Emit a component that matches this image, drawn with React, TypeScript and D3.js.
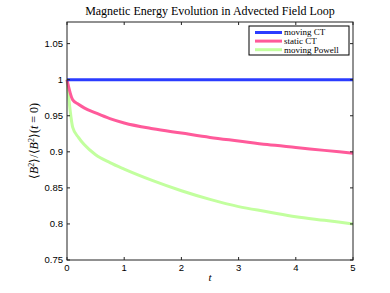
import React, { useRef, useEffect } from "react";
import * as d3 from "d3";

// sample times and normalised magnetic energy
const times = [0, 0.1, 0.2, 0.3, 0.5, 0.75, 1, 1.5, 2, 2.5, 3, 3.5, 4, 4.5, 5];
const movingCT = [1, 1, 1, 1, 1, 1, 1, 1, 1, 1, 1, 1, 1, 1, 1];
const staticCT = [1, 0.972, 0.966, 0.961, 0.954, 0.946, 0.94, 0.932, 0.926, 0.92, 0.915, 0.91, 0.906, 0.902, 0.898];
const movingPowell = [1, 0.934, 0.92, 0.91, 0.896, 0.885, 0.876, 0.86, 0.846, 0.834, 0.824, 0.817, 0.81, 0.805, 0.8];

const seriesNames = ["moving CT", "static CT", "moving Powell"];
const seriesColors = ["#2b3cff", "#ff5a9a", "#c2ff9e"];
const xTicks = [0, 1, 2, 3, 4, 5];
const yTicks = [0.75, 0.8, 0.85, 0.9, 0.95, 1, 1.05];

const W = 390;
const H = 293;

const App = () => {
  const ref = useRef<SVGSVGElement>(null);

  useEffect(() => {
    if (!ref.current) return;
    const svg = d3.select(ref.current);
    svg.selectAll("*").remove();

    const margin = { top: 22, right: 37, bottom: 33, left: 67 };
    const x = d3.scaleLinear().domain([0, 5]).range([margin.left, W - margin.right]);
    const y = d3.scaleLinear().domain([0.75, 1.08]).range([H - margin.bottom, margin.top]);

    const data = [movingCT, staticCT, movingPowell];

    const line = d3.line<number>()
      .x((d, i) => x(times[i]))
      .y((d) => y(d))
      .curve(d3.curveMonotoneX);

    const plot = svg.append("g");
    plot.append("rect")
      .attr("x", margin.left).attr("y", margin.top)
      .attr("width", W - margin.left - margin.right)
      .attr("height", H - margin.top - margin.bottom)
      .attr("fill", "#fff");

    // draw in reverse so blue ends on top
    [2, 1, 0].forEach((k) => {
      plot.append("path")
        .datum(data[k])
        .attr("d", line)
        .attr("fill", "none")
        .attr("stroke", seriesColors[k])
        .attr("stroke-width", 3)
        .attr("stroke-linejoin", "round");
    });

    const tickLen = 3;
    const axisFont = "Liberation Sans, Arial, sans-serif";
    const x0 = margin.left, x1 = W - margin.right;
    const y0 = H - margin.bottom, y1 = margin.top;

    // inner ticks on all four sides
    xTicks.forEach((t) => {
      svg.append("line").attr("x1", x(t)).attr("x2", x(t)).attr("y1", y0).attr("y2", y0 - tickLen).attr("stroke", "#222");
      svg.append("line").attr("x1", x(t)).attr("x2", x(t)).attr("y1", y1).attr("y2", y1 + tickLen).attr("stroke", "#222");
      svg.append("text")
        .attr("x", x(t)).attr("y", y0 + 11)
        .attr("text-anchor", "middle")
        .style("font-family", axisFont).style("font-size", "9.5px")
        .text(t);
    });
    yTicks.forEach((t) => {
      svg.append("line").attr("x1", x0).attr("x2", x0 + tickLen).attr("y1", y(t)).attr("y2", y(t)).attr("stroke", "#222");
      svg.append("line").attr("x1", x1).attr("x2", x1 - tickLen).attr("y1", y(t)).attr("y2", y(t)).attr("stroke", "#222");
      svg.append("text")
        .attr("x", x0 - 4).attr("y", y(t)).attr("dy", "0.35em")
        .attr("text-anchor", "end")
        .style("font-family", axisFont).style("font-size", "9.5px")
        .text(d3.format("~g")(t));
    });

    svg.append("rect")
      .attr("x", x0).attr("y", y1)
      .attr("width", x1 - x0).attr("height", y0 - y1)
      .attr("fill", "none").attr("stroke", "#222").attr("stroke-width", 1);

    const serif = "Liberation Serif, Times New Roman, serif";
    svg.append("text")
      .attr("x", (x0 + x1) / 2).attr("y", 15)
      .attr("text-anchor", "middle")
      .style("font-family", serif).style("font-size", "12px")
      .text("Magnetic Energy Evolution in Advected Field Loop");

    svg.append("text")
      .attr("x", (x0 + x1) / 2).attr("y", 281)
      .attr("text-anchor", "middle")
      .style("font-family", serif).style("font-size", "11px").style("font-style", "italic")
      .text("t");

    const yl = svg.append("text")
      .attr("transform", `translate(38,${(y0 + y1) / 2}) rotate(-90)`)
      .attr("text-anchor", "middle")
      .style("font-family", serif).style("font-size", "12px");
    yl.append("tspan").text("⟨");
    yl.append("tspan").style("font-style", "italic").text("B");
    yl.append("tspan").attr("baseline-shift", "super").style("font-size", "8px").text("2");
    yl.append("tspan").text("⟩/⟨");
    yl.append("tspan").style("font-style", "italic").text("B");
    yl.append("tspan").attr("baseline-shift", "super").style("font-size", "8px").text("2");
    yl.append("tspan").text("⟩(");
    yl.append("tspan").style("font-style", "italic").text("t");
    yl.append("tspan").text(" = 0)");

    // legend
    const lg = svg.append("g").attr("transform", "translate(249,26)");
    lg.append("rect")
      .attr("width", 100).attr("height", 29)
      .attr("fill", "#fff").attr("stroke", "#000").attr("stroke-width", 1);
    seriesNames.forEach((name, i) => {
      const ly = 6.5 + i * 8.6;
      lg.append("line")
        .attr("x1", 6).attr("x2", 33).attr("y1", ly).attr("y2", ly)
        .attr("stroke", seriesColors[i]).attr("stroke-width", 3);
      lg.append("text")
        .attr("x", 35).attr("y", ly).attr("dy", "0.33em")
        .style("font-family", serif).style("font-size", "9px")
        .text(name);
    });
  }, []);

  return (
    <div style={{ position: "absolute", left: 0, top: 0 }}>
      <svg ref={ref} width={W} height={H} style={{ display: "block" }}></svg>
    </div>
  );
};

export default App;
